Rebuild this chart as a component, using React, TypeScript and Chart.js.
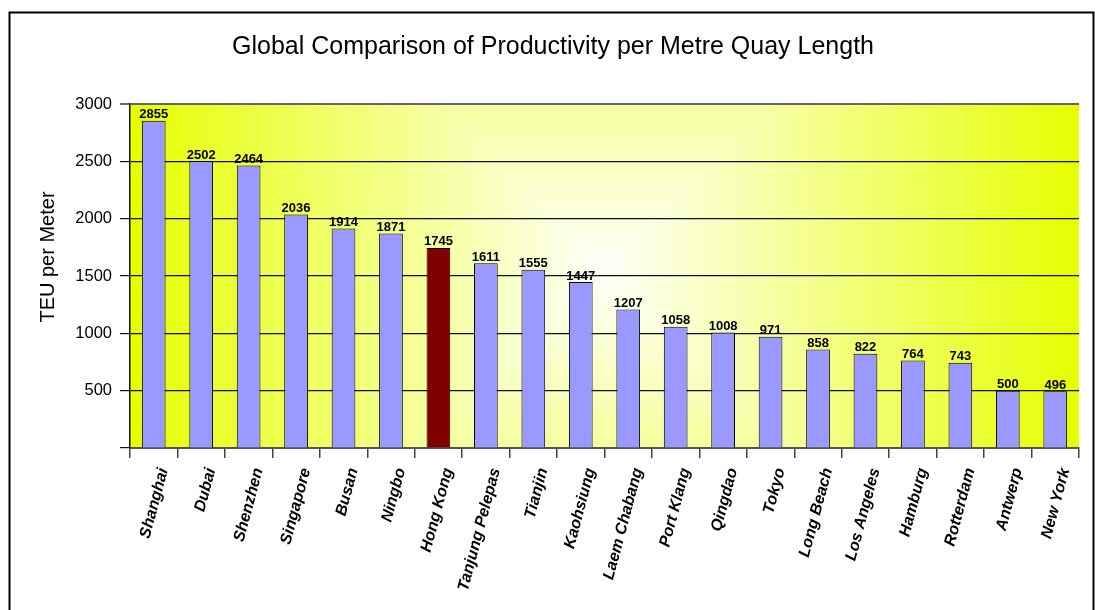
import { useEffect, useRef } from 'react';
import { Chart, registerables } from 'chart.js';

Chart.register(...registerables);

const categories = [
  'Shanghai', 'Dubai', 'Shenzhen', 'Singapore', 'Busan', 'Ningbo', 'Hong Kong',
  'Tanjung Pelepas', 'Tianjin', 'Kaohsiung', 'Laem Chabang', 'Port Klang', 'Qingdao',
  'Tokyo', 'Long Beach', 'Los Angeles', 'Hamburg', 'Rotterdam', 'Antwerp', 'New York',
];
const values = [
  2855, 2502, 2464, 2036, 1914, 1871, 1745, 1611, 1555, 1447, 1207, 1058, 1008,
  971, 858, 822, 764, 743, 500, 496,
];
const highlighted = ['Hong Kong'];
const chartTitle = 'Global Comparison of Productivity per Metre Quay Length';
const yAxisTitle = 'TEU per Meter';
const yMin = 0;
const yMax = 3000;
const yStep = 500;

const FONT = '"Liberation Sans", Arial, Helvetica, sans-serif';

const decorPlugin = {
  id: 'decor',
  beforeDraw(chart: any) {
    const { ctx, chartArea } = chart;
    const { left, top, right, bottom } = chartArea;
    const w = Math.round(right - left);
    const h = Math.round(bottom - top);
    if (!chart.$bgCanvas || chart.$bgCanvas.width !== w || chart.$bgCanvas.height !== h) {
      const off = document.createElement('canvas');
      off.width = w;
      off.height = h;
      const octx = off.getContext('2d')!;
      const img = octx.createImageData(w, h);
      const cx = w / 2;
      const cy = h / 2 - 6;
      const half = w / 2;
      const c0 = [255, 255, 250];
      const c1 = [230, 255, 0];
      for (let y = 0; y < h; y++) {
        for (let x = 0; x < w; x++) {
          const t = Math.min(1, Math.max(Math.abs(x - cx), Math.abs(y - cy)) / half);
          const i = (y * w + x) * 4;
          img.data[i] = c0[0] + (c1[0] - c0[0]) * t;
          img.data[i + 1] = c0[1] + (c1[1] - c0[1]) * t;
          img.data[i + 2] = c0[2] + (c1[2] - c0[2]) * t;
          img.data[i + 3] = 255;
        }
      }
      octx.putImageData(img, 0, 0);
      chart.$bgCanvas = off;
    }
    ctx.save();
    ctx.drawImage(chart.$bgCanvas, left, top);
    ctx.restore();
  },
  afterDraw(chart: any) {
    const { ctx } = chart;
    ctx.save();
    // outer border
    ctx.strokeStyle = '#000';
    ctx.lineWidth = 2;
    ctx.strokeRect(9.5, 12.5, 1084, 640);
    // title
    ctx.fillStyle = '#000';
    ctx.font = `25px ${FONT}`;
    ctx.textAlign = 'center';
    ctx.textBaseline = 'alphabetic';
    ctx.fillText(chartTitle, 553, 54);
    // y axis title
    ctx.translate(54, 257);
    ctx.rotate(-Math.PI / 2);
    ctx.font = `20px ${FONT}`;
    ctx.textAlign = 'center';
    ctx.textBaseline = 'alphabetic';
    ctx.fillText(yAxisTitle, 0, 0);
    ctx.restore();
  },
  afterDatasetsDraw(chart: any) {
    const { ctx } = chart;
    const meta = chart.getDatasetMeta(0);
    ctx.save();
    ctx.fillStyle = '#000';
    ctx.font = `bold 13px ${FONT}`;
    ctx.textAlign = 'center';
    ctx.textBaseline = 'alphabetic';
    meta.data.forEach((bar: any, i: number) => {
      ctx.fillText(String(values[i]), bar.x, bar.y - 2.5);
    });
    ctx.restore();
  },
};

export default function App() {
  const ref = useRef<HTMLCanvasElement>(null);
  useEffect(() => {
    if (!ref.current) return;
    const chart = new Chart(ref.current, {
      type: 'bar',
      data: {
        labels: categories,
        datasets: [
          {
            data: values,
            backgroundColor: categories.map((c) => (highlighted.includes(c) ? '#800000' : '#9999ff')),
            borderColor: '#000',
            borderWidth: 1,
            barPercentage: 0.5,
            categoryPercentage: 1,
          },
        ],
      },
      options: {
        animation: false,
        responsive: false,
        devicePixelRatio: 1,
        layout: { padding: { top: 104, right: 16, left: 0, bottom: 0 } },
        plugins: {
          legend: { display: false },
          title: { display: false },
          tooltip: { enabled: false },
        },
        scales: {
          x: {
            grid: {
              offset: true,
              drawOnChartArea: false,
              drawTicks: true,
              tickLength: 10,
              color: (c: any) => (c.index >= categories.length ? 'rgba(0,0,0,0)' : '#444'),
              lineWidth: 1.5,
            },
            border: { display: true, color: '#555', width: 2 },
            ticks: {
              autoSkip: false,
              minRotation: 75,
              maxRotation: 75,
              color: '#000',
              padding: 8,
              labelOffset: 10,
              font: { family: FONT, size: 16, weight: 'bold', style: 'italic' },
            },
            afterFit: (s: any) => {
              s.height = 162;
            },
          },
          y: {
            min: yMin,
            max: yMax,
            ticks: {
              stepSize: yStep,
              color: '#000',
              padding: 8,
              font: { family: FONT, size: 16.5 },
              callback: (v: any) => (v === 0 ? '' : String(v)),
            },
            grid: {
              color: (c: any) => (c.tick && c.tick.value === yMax ? '#666' : '#111'),
              lineWidth: (c: any) => (c.tick && c.tick.value === yMax ? 2 : 1.2),
              tickLength: 10,
              drawTicks: true,
            },
            border: { display: true, color: '#111', width: 1.5 },
            afterFit: (s: any) => {
              s.width = 130;
            },
          },
        },
      } as any,
      plugins: [decorPlugin],
    });
    return () => chart.destroy();
  }, []);
  return (
    <div style={{ position: 'fixed', left: 0, top: 0, width: 1095, height: 610, background: '#fff' }}>
      <canvas ref={ref} width={1095} height={610} style={{ display: 'block' }} />
    </div>
  );
}
